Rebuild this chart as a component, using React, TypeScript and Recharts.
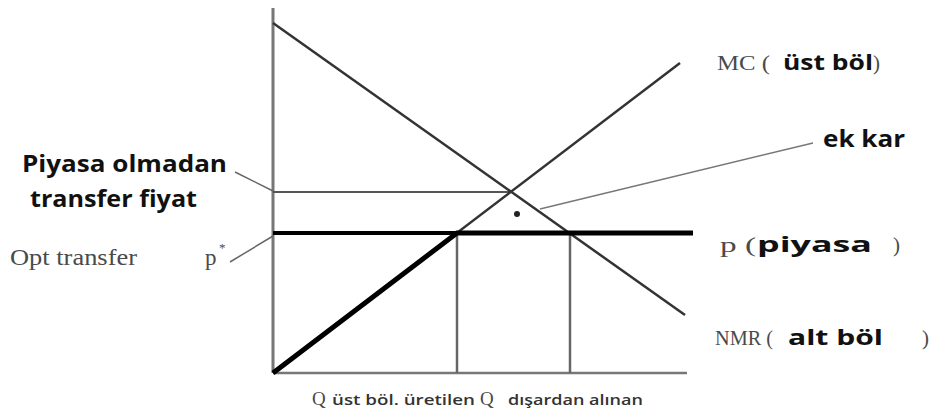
import { LineChart, Line, XAxis, YAxis, ReferenceLine, ReferenceDot } from 'recharts'

// eğriler (q, p) — birim ~ piksel
const nmrCurve = [
  { q: 0, p: 350 },
  { q: 412, p: 58 },
]
const mcCurve = [
  { q: 0, p: 0 },
  { q: 407, p: 310 },
]
// üst bölümün etkin maliyeti: p* altında MC, sonra piyasa fiyatı
const effectiveCost = [
  { q: 0, p: 0 },
  { q: 184, p: 140 },
  { q: 420, p: 140 },
]

const pStar = 140
const pNoMarket = 181
const qInternal = 184
const qExternal = 297
const qCross = 238
const axisEnd = { q: 414, p: 365 }
const extraProfit = { q: 244, p: 159 }

const leftLabels = ['Piyasa olmadan', 'transfer fiyat', 'Opt transfer', 'p', '*']
const curveLabels = ['MC (', 'üst böl', ')', 'p (', 'piyasa', ')', 'NMR (', 'alt böl', ')', 'ek kar']
const axisLabels = ['Q', 'üst böl. üretilen', 'Q', 'dışardan alınan']

const serif = '"Liberation Serif", "DejaVu Serif", serif'
const sans = '"Open Sans", Lato, sans-serif'

function Txt(props: any) {
  const { viewBox, text, font, size, weight, color, width } = props
  return (
    <text
      x={viewBox.x}
      y={viewBox.y}
      fontFamily={font}
      fontSize={size}
      fontWeight={weight ?? 400}
      fill={color ?? '#000'}
      textLength={width}
      lengthAdjust={width ? 'spacingAndGlyphs' : undefined}
    >
      {text}
    </text>
  )
}

function note(q: number, p: number, el: any, key: string) {
  return <ReferenceDot key={key} x={q} y={p} r={0} stroke="none" fill="none" ifOverflow="visible" label={el} />
}

export default function App() {
  const bold = (text: string, size: number, width?: number) => (
    <Txt text={text} font={sans} size={size} weight={700} color="#111" width={width} />
  )
  const roman = (text: string, size: number, width?: number) => (
    <Txt text={text} font={serif} size={size} color="#4a4a4a" width={width} />
  )

  return (
    <div style={{ position: 'absolute', left: 0, top: 0, background: '#fff' }}>
      <LineChart width={936} height={419} margin={{ top: 8, right: 243, left: 273, bottom: 46 }}>
        <XAxis type="number" dataKey="q" domain={[0, 420]} hide />
        <YAxis type="number" dataKey="p" domain={[0, 365]} hide />

        {/* eksenler */}
        <ReferenceLine segment={[{ x: 0, y: 0 }, { x: 0, y: axisEnd.p }]} stroke="#777" strokeWidth={3} ifOverflow="visible" />
        <ReferenceLine segment={[{ x: 0, y: 0 }, { x: axisEnd.q, y: 0 }]} stroke="#777" strokeWidth={2.5} ifOverflow="visible" />

        <ReferenceLine segment={[{ x: 0, y: pNoMarket }, { x: qCross, y: pNoMarket }]} stroke="#555" strokeWidth={1.8} ifOverflow="visible" />
        <ReferenceLine segment={[{ x: qInternal, y: 0 }, { x: qInternal, y: pStar }]} stroke="#666" strokeWidth={2.5} ifOverflow="visible" />
        <ReferenceLine segment={[{ x: qExternal, y: 0 }, { x: qExternal, y: pStar }]} stroke="#666" strokeWidth={2.5} ifOverflow="visible" />
        <ReferenceLine segment={[{ x: 0, y: pStar }, { x: qInternal, y: pStar }]} stroke="#000" strokeWidth={4} ifOverflow="visible" />

        <Line data={nmrCurve} dataKey="p" type="linear" stroke="#333" strokeWidth={2.5} dot={false} isAnimationActive={false} />
        <Line data={mcCurve} dataKey="p" type="linear" stroke="#333" strokeWidth={2.5} dot={false} isAnimationActive={false} />
        <Line data={effectiveCost} dataKey="p" type="linear" stroke="#000" strokeWidth={5} dot={false} isAnimationActive={false} />

        {/* oklar */}
        <ReferenceLine segment={[{ x: -38, y: 201 }, { x: 0, y: pNoMarket + 1 }]} stroke="#666" strokeWidth={1.5} ifOverflow="visible" />
        <ReferenceLine segment={[{ x: -43, y: 111 }, { x: 0, y: pStar - 3 }]} stroke="#666" strokeWidth={1.5} ifOverflow="visible" />
        <ReferenceLine segment={[{ x: 267, y: 164 }, { x: 540, y: 230 }]} stroke="#777" strokeWidth={1.5} ifOverflow="visible" />
        <ReferenceDot x={extraProfit.q} y={extraProfit.p} r={3} fill="#222" stroke="none" ifOverflow="visible" />

        {note(-251, 201, bold(leftLabels[0], 23, 205), 'l0')}
        {note(-243, 166, bold(leftLabels[1], 23, 167), 'l1')}
        {note(-263, 108, roman(leftLabels[2], 23, 127), 'l2')}
        {note(-68, 108, roman(leftLabels[3], 23), 'l3')}
        {note(-54, 121, roman(leftLabels[4], 13), 'l4')}

        {note(444, 303, roman(curveLabels[0], 21, 53), 'c0')}
        {note(510, 303, bold(curveLabels[1], 21, 90), 'c1')}
        {note(600, 303, roman(curveLabels[2], 21), 'c2')}
        {note(447, 121, roman(curveLabels[3], 21, 36), 'c3')}
        {note(484, 121, bold(curveLabels[4], 22, 115), 'c4')}
        {note(620, 121, roman(curveLabels[5], 21), 'c5')}
        {note(442, 28, roman(curveLabels[6], 21, 58), 'c6')}
        {note(515, 28, bold(curveLabels[7], 21, 95), 'c7')}
        {note(649, 28, roman(curveLabels[8], 21), 'c8')}
        {note(550, 226, bold(curveLabels[9], 23, 82), 'c9')}

        {note(39, -32, roman(axisLabels[0], 19), 'a0')}
        {note(59, -32, <Txt text={axisLabels[1]} font={sans} size={15} weight={600} color="#333" width={143} />, 'a1')}
        {note(207, -32, roman(axisLabels[2], 19), 'a2')}
        {note(235, -32, <Txt text={axisLabels[3]} font={sans} size={15} weight={600} color="#333" width={135} />, 'a3')}
      </LineChart>
    </div>
  )
}
